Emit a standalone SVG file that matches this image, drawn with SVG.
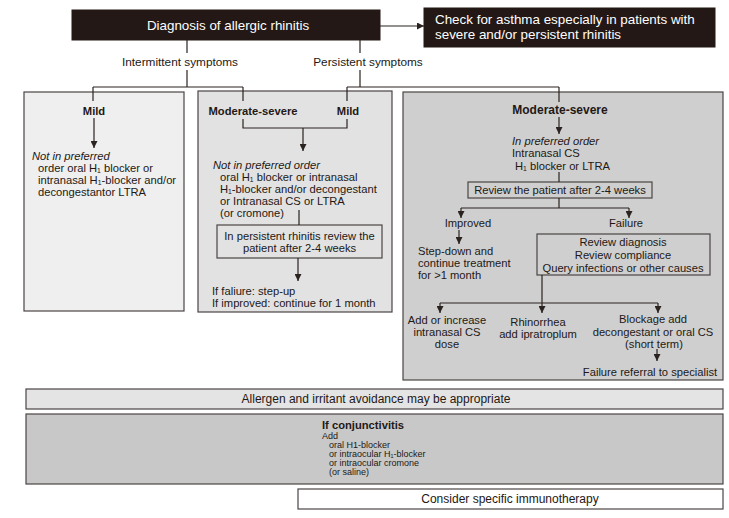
<svg xmlns="http://www.w3.org/2000/svg" width="729" height="518" viewBox="0 0 729 518">
<defs>
<marker id="ah" viewBox="0 0 8 8" refX="8" refY="4" markerWidth="7" markerHeight="7" markerUnits="userSpaceOnUse" orient="auto">
<path d="M0,0 L8,4 L0,8 z" fill="#2b2320"/>
</marker>
</defs>
<style>
text{font-family:"Liberation Sans",Arial,Helvetica,sans-serif;fill:#231815;font-size:11.2px}
.w{fill:#ffffff;font-size:13.4px}
.b{font-weight:bold}
.i{font-style:italic}
.c{text-anchor:middle}
.s{font-size:9px}
.m{font-size:11.8px}
.box{stroke:#4d4545;stroke-width:1.2}
.dark{fill:#231815;stroke:#231815}
.ln{fill:none;stroke:#2b2320;stroke-width:1.2}
.arr{fill:none;stroke:#2b2320;stroke-width:1.2;marker-end:url(#ah)}
</style>
<rect width="729" height="518" fill="#ffffff"/>

<g id="diagnosis">
<rect class="dark" x="72" y="10" width="308" height="30"/>
<text class="w c" x="228" y="30">Diagnosis of allergic rhinitis</text>
</g>

<g id="asthma">
<rect class="dark" x="424" y="8" width="291" height="39"/>
<text class="w" x="435" y="24">Check for asthma especially in patients with</text>
<text class="w" x="435" y="39">severe and/or persistent rhinitis</text>
</g>

<g id="box-intermittent-mild">
<rect class="box" x="24" y="92" width="160" height="219" fill="#efefef"/>
<text class="b c" x="94" y="115">Mild</text>
<text class="i" x="32" y="160">Not in preferred</text>
<text x="38" y="172">order oral H₁ blocker or</text>
<text x="38" y="184">intranasal H₁-blocker and/or</text>
<text x="38" y="196">decongestantor LTRA</text>
</g>

<g id="box-mixed">
<rect class="box" x="198" y="91" width="194" height="221" fill="#e2e2e2"/>
<text class="b c" x="253" y="115">Moderate-severe</text>
<text class="b c" x="348" y="115">Mild</text>
<text class="i" x="213" y="169">Not in preferred order</text>
<text x="220" y="181">oral H₁ blocker or intranasal</text>
<text x="220" y="193">H₁-blocker and/or decongestant</text>
<text x="220" y="205">or Intranasal CS or LTRA</text>
<text x="220" y="217">(or cromone)</text>
<rect class="box" x="217" y="225" width="165" height="33" fill="#e2e2e2"/>
<text class="c" x="299.5" y="240">In persistent rhinitis review the</text>
<text class="c" x="299.5" y="252">patient after 2-4 weeks</text>
<text x="212" y="295">If faliure: step-up</text>
<text x="212" y="307">If improved: continue for 1 month</text>
</g>

<g id="box-persistent-severe">
<rect class="box" x="403" y="92" width="320" height="288" fill="#cfcfcf"/>
<text class="b c" x="560" y="114" style="font-size:12px">Moderate-severe</text>
<text class="i" x="512" y="145">In preferred order</text>
<text x="512" y="157">Intranasal CS</text>
<text x="515" y="170">H₁ blocker or LTRA</text>
<rect class="box" x="468" y="182" width="184" height="16" fill="#cfcfcf"/>
<text class="c" x="560" y="194">Review the patient after 2-4 weeks</text>
<text class="c" x="468" y="227">Improved</text>
<text class="c" x="626" y="227">Failure</text>
<text x="418" y="255">Step-down and</text>
<text x="418" y="267">continue treatment</text>
<text x="418" y="279">for &gt;1 month</text>
<rect class="box" x="537" y="234" width="173" height="41" fill="#cfcfcf"/>
<text class="c" x="623" y="246">Review diagnosis</text>
<text class="c" x="623" y="259">Review compliance</text>
<text class="c" x="623" y="272">Query infections or other causes</text>
<text class="c" x="447" y="324">Add or increase</text>
<text class="c" x="447" y="336">intranasal CS</text>
<text class="c" x="447" y="348">dose</text>
<text class="c" x="538" y="326">Rhinorrhea</text>
<text class="c" x="538" y="338">add ipratroplum</text>
<text class="c" x="653" y="323">Blockage add</text>
<text class="c" x="653" y="336">decongestant or oral CS</text>
<text class="c" x="654" y="348">(short term)</text>
<text class="c" x="650" y="376">Failure referral to specialist</text>
</g>

<g id="avoidance">
<rect class="box" x="26" y="389" width="697" height="20" fill="#e4e4e4"/>
<text class="c" x="376" y="403" style="font-size:12px">Allergen and irritant avoidance may be appropriate</text>
</g>

<g id="conjunctivitis">
<rect class="box" x="26" y="414" width="697" height="70" fill="#c8c8c8"/>
<text class="b" x="322" y="429">If conjunctivitis</text>
<text class="s" x="322" y="439">Add</text>
<text class="s" x="329" y="448">oral H1-blocker</text>
<text class="s" x="329" y="457">or intraocular H₁-blocker</text>
<text class="s" x="329" y="466">or intraocular cromone</text>
<text class="s" x="329" y="475">(or saline)</text>
</g>

<g id="immunotherapy">
<rect class="box" x="298" y="489" width="425" height="20" fill="#ffffff"/>
<text class="c" x="510" y="503" style="font-size:12px">Consider specific immunotherapy</text>
</g>

<g id="connectors">
<line class="arr" x1="380" y1="26" x2="424" y2="26"/>
<path class="ln" d="M187,40 V53 M187,70 V87 M93,87 H243 M93,87 V101 M243,87 V101"/>
<text class="c m" x="180" y="66">Intermittent symptoms</text>
<path class="ln" d="M360,40 V53 M360,70 V87 M347,87 H559 M347,87 V101 M559,87 V102"/>
<text class="c m" x="368" y="66">Persistent symptoms</text>
<line class="arr" x1="94" y1="118" x2="94" y2="148"/>
<path class="ln" d="M243,119 V128 H347 V119"/>
<line class="arr" x1="303" y1="128" x2="303" y2="151"/>
<line class="ln" x1="299" y1="210" x2="299" y2="225"/>
<line class="arr" x1="298" y1="258" x2="298" y2="281"/>
<line class="arr" x1="559" y1="117" x2="559" y2="134"/>
<line class="ln" x1="559" y1="172" x2="559" y2="182"/>
<path class="ln" d="M559,198 V208 M461,208 H629"/>
<line class="arr" x1="461" y1="208" x2="461" y2="218"/>
<line class="arr" x1="629" y1="208" x2="629" y2="218"/>
<line class="arr" x1="459" y1="230" x2="459" y2="244"/>
<path class="ln" d="M542,275 V303 M440,303 H658"/>
<line class="arr" x1="440" y1="303" x2="440" y2="313"/>
<line class="arr" x1="542" y1="303" x2="542" y2="313"/>
<line class="arr" x1="658" y1="303" x2="658" y2="313"/>
<line class="arr" x1="657" y1="349" x2="657" y2="361"/>
</g>
</svg>
